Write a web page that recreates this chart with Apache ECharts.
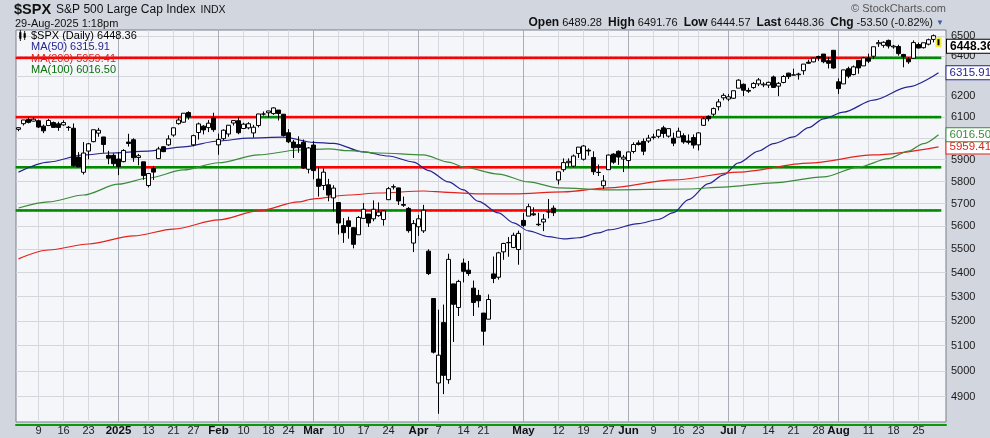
<!DOCTYPE html>
<html><head><meta charset="utf-8">
<script src="https://cdn.jsdelivr.net/npm/echarts@6/dist/echarts.min.js"></script>
<style>html,body{margin:0;padding:0;background:#d2d6df}#c{width:990px;height:438px}</style>
</head><body><div id="c"></div>
<script>
// ---------- DATA ----------
const dates = [
'2024-12-03','2024-12-04','2024-12-05','2024-12-06','2024-12-09','2024-12-10','2024-12-11','2024-12-12','2024-12-13',
'2024-12-16','2024-12-17','2024-12-18','2024-12-19','2024-12-20','2024-12-23','2024-12-24','2024-12-26','2024-12-27',
'2024-12-30','2024-12-31','2025-01-02','2025-01-03','2025-01-06','2025-01-07','2025-01-08','2025-01-10','2025-01-13',
'2025-01-14','2025-01-15','2025-01-16','2025-01-17','2025-01-21','2025-01-22','2025-01-23','2025-01-24','2025-01-27',
'2025-01-28','2025-01-29','2025-01-30','2025-01-31','2025-02-03','2025-02-04','2025-02-05','2025-02-06','2025-02-07',
'2025-02-10','2025-02-11','2025-02-12','2025-02-13','2025-02-14','2025-02-18','2025-02-19','2025-02-20','2025-02-21',
'2025-02-24','2025-02-25','2025-02-26','2025-02-27','2025-02-28','2025-03-03','2025-03-04','2025-03-05','2025-03-06',
'2025-03-07','2025-03-10','2025-03-11','2025-03-12','2025-03-13','2025-03-14','2025-03-17','2025-03-18','2025-03-19',
'2025-03-20','2025-03-21','2025-03-24','2025-03-25','2025-03-26','2025-03-27','2025-03-28','2025-03-31','2025-04-01',
'2025-04-02','2025-04-03','2025-04-04','2025-04-07','2025-04-08','2025-04-09','2025-04-10','2025-04-11','2025-04-14',
'2025-04-15','2025-04-16','2025-04-17','2025-04-21','2025-04-22','2025-04-23','2025-04-24','2025-04-25','2025-04-28',
'2025-04-29','2025-04-30','2025-05-01','2025-05-02','2025-05-05','2025-05-06','2025-05-07','2025-05-08','2025-05-09',
'2025-05-12','2025-05-13','2025-05-14','2025-05-15','2025-05-16','2025-05-19','2025-05-20','2025-05-21','2025-05-22',
'2025-05-23','2025-05-27','2025-05-28','2025-05-29','2025-05-30','2025-06-02','2025-06-03','2025-06-04','2025-06-05',
'2025-06-06','2025-06-09','2025-06-10','2025-06-11','2025-06-12','2025-06-13','2025-06-16','2025-06-17','2025-06-18',
'2025-06-20','2025-06-23','2025-06-24','2025-06-25','2025-06-26','2025-06-27','2025-06-30','2025-07-01','2025-07-02',
'2025-07-03','2025-07-07','2025-07-08','2025-07-09','2025-07-10','2025-07-11','2025-07-14','2025-07-15','2025-07-16',
'2025-07-17','2025-07-18','2025-07-21','2025-07-22','2025-07-23','2025-07-24','2025-07-25','2025-07-28','2025-07-29',
'2025-07-30','2025-07-31','2025-08-01','2025-08-04','2025-08-05','2025-08-06','2025-08-07','2025-08-08','2025-08-11',
'2025-08-12','2025-08-13','2025-08-14','2025-08-15','2025-08-18','2025-08-19','2025-08-20','2025-08-21','2025-08-22',
'2025-08-25','2025-08-26','2025-08-27','2025-08-28','2025-08-29'];

const open = [6042,6069,6089,6081,6083,6057,6060,6074,6068,6063,6052,6047,5912,5842,5940,5984,6024,6006,5920,5920,
5903,5891,5982,5993,5910,5890,5782,5859,5905,5960,5969,6015,6069,6076,6122,5969,6027,6057,6050,6096,
5969,5998,6020,6072,6083,6046,6049,6025,6060,6115,6121,6117,6134,6114,6026,5982,5970,5981,5856,
5968,5811,5782,5785,5726,5705,5603,5624,5594,5563,5635,5654,5633,5647,5630,5718,5775,5771,5696,5679,5527,
5598,5580,5492,5292,4953,5193,4966,5353,5255,5441,5411,5335,5305,5232,5207,5395,5381,5489,5529,5508,5499,
5626,5645,5655,5609,5619,5663,5680,5807,5854,5886,5870,5929,5902,5944,5910,5841,5781,5854,5926,5939,5903,
5896,5938,5978,5985,5987,6004,6009,6049,6010,6000,6005,6012,5987,6003,5969,6061,6104,6114,6150,6193,
6187,6191,6240,6259,6229,6243,6261,6256,6255,6295,6250,6268,6314,6304,6306,6326,6368,6370,6397,6409,6376,6428,
6271,6261,6336,6307,6377,6350,6389,6398,6461,6453,6478,6445,6447,6407,6384,6388,6457,6441,6459,6483,6489.28];

const high = [6052,6086,6100,6100,6088,6065,6092,6079,6078,6085,6058,6070,5935,5982,5978,6040,6049,6006,5941,5929,
5935,5949,6021,6000,5927,5890,5836,5871,5960,5964,6014,6051,6101,6119,6128,6017,6074,6062,6086,6121,
6022,6042,6062,6084,6101,6073,6076,6063,6116,6127,6130,6147,6134,6114,6043,5992,6009,5994,5959,
5986,5865,5860,5812,5783,5705,5636,5642,5597,5645,5703,5654,5715,5706,5670,5775,5787,5772,5732,5685,5627,
5650,5695,5500,5292,5246,5267,5481,5353,5370,5460,5450,5367,5328,5232,5309,5469,5489,5528,5553,5572,5581,
5658,5700,5684,5660,5654,5721,5692,5845,5906,5906,5924,5958,5968,5953,5939,5878,5829,5924,5930,5943,5922,
5937,5981,5990,5999,6016,6021,6043,6059,6045,6026,6050,6023,6018,6018,6028,6101,6108,6146,6187,6215,
6211,6228,6284,6263,6242,6269,6290,6269,6272,6302,6270,6304,6316,6336,6316,6359,6381,6390,6401,6409,6394,6428,
6288,6330,6346,6352,6379,6395,6411,6446,6480,6473,6482,6455,6456,6410,6394,6478,6467,6466,6487,6508,6491.76];

const low = [6033,6060,6070,6079,6048,6024,6059,6051,6035,6059,6035,5867,5866,5832,5902,5981,6007,5932,5879,5869,
5829,5888,5961,5890,5874,5808,5773,5807,5905,5935,5964,6007,6064,6074,6088,5962,5994,6018,6029,6030,
5923,5990,6007,6060,6019,6045,6042,6003,6051,6107,6099,6111,6084,6008,5977,5908,5932,5858,5837,
5810,5732,5761,5711,5666,5564,5528,5546,5504,5563,5632,5597,5622,5642,5603,5718,5764,5694,5686,5572,5488,
5558,5571,5390,5069,4835,4910,4950,5115,5220,5359,5387,5220,5255,5101,5207,5356,5371,5455,5468,5505,5434,
5597,5645,5646,5601,5579,5635,5645,5786,5844,5868,5865,5908,5896,5919,5830,5825,5767,5854,5881,5876,5843,
5861,5929,5966,5921,5978,5994,6000,6002,6003,5963,6005,5974,5971,5952,5943,6059,6080,6104,6132,6181,
6177,6188,6240,6201,6217,6237,6250,6245,6241,6241,6201,6264,6285,6303,6282,6306,6360,6368,6375,6363,6337,6336,
6212,6261,6289,6303,6311,6350,6364,6384,6445,6441,6437,6436,6401,6343,6360,6385,6438,6437,6453,6468,6444.57];

const close = [6049.88,6086.49,6075.11,6090.27,6052.85,6034.91,6084.19,6051.25,6051.09,6074.08,6050.61,5872.16,5867.08,5930.85,5974.07,6040.04,6037.59,5970.84,5906.94,5881.63,
5868.55,5942.47,5975.38,5909.03,5918.25,5827.04,5836.22,5842.91,5949.91,5937.34,5996.66,6049.24,6086.37,6118.71,6101.24,6012.28,6067.70,6039.31,6071.17,6040.53,
5994.57,6037.88,6061.48,6083.57,6025.99,6066.44,6068.50,6051.97,6115.07,6114.63,6129.58,6144.15,6117.52,6013.13,5983.25,5955.25,5956.06,5861.57,5954.50,
5849.72,5778.15,5842.63,5738.52,5770.20,5614.56,5572.07,5599.30,5521.52,5638.94,5675.12,5614.66,5675.29,5662.89,5667.56,5767.57,5776.65,5712.20,5693.31,5580.94,5611.85,
5633.07,5670.97,5396.52,5074.08,5062.25,4982.77,5456.90,5268.05,5363.36,5405.97,5396.63,5275.70,5282.70,5158.20,5287.76,5375.86,5484.77,5525.21,5528.75,5560.83,5569.06,
5604.14,5686.67,5650.38,5606.91,5631.28,5663.94,5659.91,5844.19,5886.55,5892.58,5916.93,5958.38,5963.60,5940.46,5844.61,5842.01,5802.82,5921.54,5888.55,5912.17,5911.69,
5935.94,5970.37,5970.81,5939.30,6000.36,6005.88,6038.81,6022.24,6045.26,5976.97,6033.11,5982.72,5980.87,5967.84,6025.17,6092.18,6092.16,6141.02,6173.07,6204.95,
6198.01,6227.42,6279.35,6229.98,6225.52,6263.26,6280.46,6259.75,6268.56,6243.76,6263.70,6297.36,6296.79,6305.60,6309.62,6358.91,6363.35,6388.64,6389.77,6370.86,6362.90,6339.39,
6238.01,6329.94,6299.19,6345.06,6340.00,6389.45,6373.45,6445.76,6466.58,6468.54,6449.80,6449.15,6411.37,6395.78,6370.17,6466.91,6439.32,6465.94,6481.40,6501.86,6448.36];

// moving averages: [trading-day index, value]
const ma50 = [[0,5843],[6,5889],[13,5922],[18,5931],[26,5940],[33,5960],[40,5987],[46,6001],[53,6005],[59,5981],[63,5976],
[69,5936],[74,5917],[79,5889],[82,5850],[86,5798],[89,5762],[92,5710],[96,5659],[99,5615],[102,5580],[106,5555],[109,5545],
[112,5550],[116,5571],[118,5584],[124,5612],[128,5630],[131,5660],[134,5718],[138,5790],[141,5830],[144,5885],[148,5940],
[151,5975],[155,6006],[158,6050],[161,6092],[165,6124],[171,6182],[178,6246],[184,6315.91]];
const ma100 = [[0,5681],[6,5708],[13,5739],[20,5788],[26,5816],[33,5853],[40,5886],[48,5922],[56,5945],[62,5950],[66,5942],
[72,5931],[81,5922],[86,5889],[89,5866],[96,5834],[102,5798],[108,5771],[118,5762],[134,5766],[141,5775],[151,5794],
[161,5821],[168,5866],[174,5905],[178,5940],[181,5975],[184,6016.50]];
const ma200 = [[0,5459],[6,5497],[14,5523],[23,5558],[31,5588],[40,5628],[48,5668],[56,5708],[59,5722],[66,5739],[72,5748],
[81,5757],[86,5751],[92,5744],[99,5744],[109,5753],[118,5771],[131,5807],[144,5843],[158,5884],[171,5922],[184,5959.41]];

// horizontal support / resistance levels
const levels = [6390, 6100, 5865, 5670];

// axis ticks
const yTicks = [4900,5000,5100,5200,5300,5400,5500,5600,5700,5800,5900,6000,6100,6200,6300,6400,6500];
const xTickDates = ['2024-12-09','2024-12-16','2024-12-23','2025-01-02','2025-01-13','2025-01-21','2025-01-27',
'2025-02-03','2025-02-10','2025-02-18','2025-02-24','2025-03-03','2025-03-10','2025-03-17','2025-03-24',
'2025-04-01','2025-04-07','2025-04-14','2025-04-21','2025-05-01','2025-05-12','2025-05-19','2025-05-27',
'2025-06-02','2025-06-09','2025-06-16','2025-06-23','2025-07-01','2025-07-07','2025-07-14','2025-07-21','2025-07-28',
'2025-08-01','2025-08-11','2025-08-18','2025-08-25'];
const xTickLabels = ['9','16','23','2025','13','21','27','Feb','10','18','24','Mar','10','17','24','Apr','7','14','21',
'May','12','19','27','Jun','9','16','23','Jul','7','14','21','28','Aug','11','18','25'];
const xMonthTicks = ['2025-01-02','2025-02-03','2025-03-03','2025-04-01','2025-05-01','2025-06-02','2025-07-01','2025-08-01'];

// ---------- CHART ----------
const FONT = 'Liberation Sans, Arial, sans-serif';
const N = dates.length, last = N - 1;
const fmt = v => v.toFixed(2);
const labelMap = {}; xTickDates.forEach((d, i) => labelMap[d] = xTickLabels[i]);
const monthSet = new Set(xMonthTicks);
const C50 = '#25258f', C100 = '#3b8b3b', C200 = '#e3221c';
const chg = close[last] - close[last - 1];
const pct = chg / close[last - 1] * 100;
const spxName = '$SPX (Daily) ' + fmt(close[last]);
const n50 = 'MA(50) ' + fmt(ma50[ma50.length - 1][1]);
const n200 = 'MA(200) ' + fmt(ma200[ma200.length - 1][1]);
const n100 = 'MA(100) ' + fmt(ma100[ma100.length - 1][1]);

const candleData = dates.map((d, i) => {
  const v = [open[i], close[i], low[i], high[i]];
  if (i === last) return { value: v, itemStyle: { borderColor0: '#f2ec3a', borderWidth: 2 } };
  return v;
});
const levelData = [];
levels.forEach(L => close.forEach((c, i) => levelData.push([i, L, c])));

function maSeries(name, data, color) {
  return {
    type: 'line', name, data, z: 3, smooth: 0.3, smoothMonotone: 'x', showSymbol: false, silent: true,
    lineStyle: { color, width: 1.2 }, itemStyle: { color },
    endLabel: { show: true, formatter: p => fmt(p.value[1]), distance: 8, color, fontSize: 11.5, fontFamily: FONT,
      backgroundColor: '#ffffff', borderColor: color, borderWidth: 1, padding: [1, 2, 0, 3] }
  };
}

const chart = echarts.init(document.getElementById('c'));
chart.setOption({
  animation: false,
  backgroundColor: '#d2d6df',
  textStyle: { fontFamily: FONT },
  title: [
    { left: 14, top: 1, padding: 0, text: '{a|$SPX} {b|S&P 500 Large Cap Index} {c|INDX}',
      textStyle: { fontWeight: 'normal', rich: { a: { fontSize: 14.5, fontWeight: 'bold', color: '#111', fontFamily: FONT, lineHeight: 17 },
        b: { fontSize: 12, fontWeight: 'normal', color: '#111', fontFamily: FONT, lineHeight: 17 },
        c: { fontSize: 10.5, fontWeight: 'normal', color: '#111', fontFamily: FONT, lineHeight: 17 } } } },
    { left: 15, top: 17, padding: 0, text: '29-Aug-2025 1:18pm',
      textStyle: { fontSize: 11, fontWeight: 'normal', color: '#111', fontFamily: FONT, lineHeight: 13 } },
    { right: 44, top: 3, padding: 0, text: '\u00a9 StockCharts.com',
      textStyle: { fontSize: 11, fontWeight: 'normal', color: '#555', fontFamily: FONT, lineHeight: 12 } },
    { right: 46, top: 16, padding: 0,
      text: '{b|Open} ' + fmt(open[last]) + '  {b|High} ' + fmt(high[last]) + '  {b|Low} ' + fmt(low[last]) +
            '  {b|Last} ' + fmt(close[last]) + '  {b|Chg} ' + fmt(chg) + ' (' + fmt(pct) + '%) {t|\u25bc}',
      textStyle: { fontSize: 11, fontWeight: 'normal', color: '#111', fontFamily: FONT, lineHeight: 14,
        rich: { b: { fontSize: 12, fontWeight: 'bold', color: '#111', fontFamily: FONT }, t: { fontSize: 8, color: '#3a5ea8' } } } }
  ],
  legend: {
    orient: 'vertical', left: 18, top: 30, padding: 0, itemGap: 0.5, itemWidth: 9, itemHeight: 11,
    selectedMode: false, textStyle: { fontSize: 11, fontFamily: FONT, lineHeight: 11, padding: [0, 0, 0, -1] },
    data: [
      { name: spxName, icon: 'path://M0.6,0H1.4V2H2V8H1.4V10H0.6V8H0V2H0.6Z M4.6,1H5.4V3H6V7H5.4V9H4.6V7H4V3H4.6Z',
        itemStyle: { color: '#000', borderWidth: 0 }, textStyle: { color: '#000' } },
      { name: n50, icon: 'none', lineStyle: { width: 2, color: C50 }, textStyle: { color: C50 } },
      { name: n200, icon: 'none', lineStyle: { width: 2, color: C200 }, textStyle: { color: C200 } },
      { name: n100, icon: 'none', lineStyle: { width: 2, color: C100 }, textStyle: { color: '#0a700a' } }
    ]
  },
  grid: { left: 16, right: 44, top: 30, bottom: 16, show: true, backgroundColor: '#f5f6fa', borderColor: '#7b7f8a', borderWidth: 1 },
  xAxis: {
    type: 'category', data: dates, boundaryGap: true, max: N, offset: 3,
    axisLine: { show: true, lineStyle: { color: '#0a990a', width: 2 } },
    axisTick: { show: false }, splitLine: { show: false },
    axisLabel: {
      interval: (i, v) => v != null && labelMap[v] != null,
      formatter: v => { const t = labelMap[v]; if (t == null) return ''; return monthSet.has(v) ? '{b|' + t + '}' : t; },
      margin: 0, fontSize: 11, color: '#222', fontFamily: FONT,
      rich: { b: { fontSize: 11.5, fontWeight: 'bold', color: '#111', fontFamily: FONT } }
    }
  },
  yAxis: {
    type: 'log', logBase: 10, min: 4804, max: 6531, position: 'right',
    axisLine: { show: false },
    axisTick: { show: false, customValues: yTicks },
    axisLabel: { customValues: yTicks, formatter: v => String(Math.round(v)), color: '#1a1a1a', fontSize: 11, fontFamily: FONT, margin: 5 },
    splitLine: { show: true, lineStyle: { color: '#d5d6dc', width: 1 } }
  },
  series: [
    {
      type: 'custom', name: 'levels', z: 3, silent: true, data: levelData, encode: { x: 0, y: 1 },
      renderItem: (params, api) => {
        const i = api.value(0), L = api.value(1), c = api.value(2);
        const p = api.coord([i, L]);
        const w = api.size([1, 0], [i, L])[0];
        return { type: 'rect', shape: { x: p[0] - w / 2 - 0.3, y: p[1] - 1.3, width: w + 0.6, height: 2.6 },
          style: { fill: c >= L ? '#008a00' : '#ff0000' } };
      }
    },
    maSeries(n50, ma50, C50),
    maSeries(n200, ma200, C200),
    maSeries(n100, ma100, C100),
    {
      type: 'candlestick', name: spxName, data: candleData, z: 5, barWidth: '80%', silent: true,
      itemStyle: { color: '#ffffff', color0: '#000000', borderColor: '#000000', borderColor0: '#000000', borderWidth: 1 },
      markLine: {
        silent: true, symbol: 'none', z: 1, animation: false, label: { show: false },
        data: xTickDates.map(d => ({ xAxis: d, lineStyle: { color: monthSet.has(d) ? '#a9adb7' : '#d8d9de', width: 1, type: 'solid' } }))
      },
      markPoint: {
        silent: true, animation: false,
        data: [{ coord: [last, close[last]], symbol: 'rect', symbolSize: 1, itemStyle: { color: 'rgba(0,0,0,0)' },
          label: { show: true, position: 'right', distance: 8, formatter: fmt(close[last]), fontWeight: 'bold', fontSize: 12,
            fontFamily: FONT, color: '#000', backgroundColor: '#ffffff', borderColor: '#000', borderWidth: 1, padding: [1, 2, 0, 3] } }]
      }
    }
  ]
});
</script>
</body></html>
